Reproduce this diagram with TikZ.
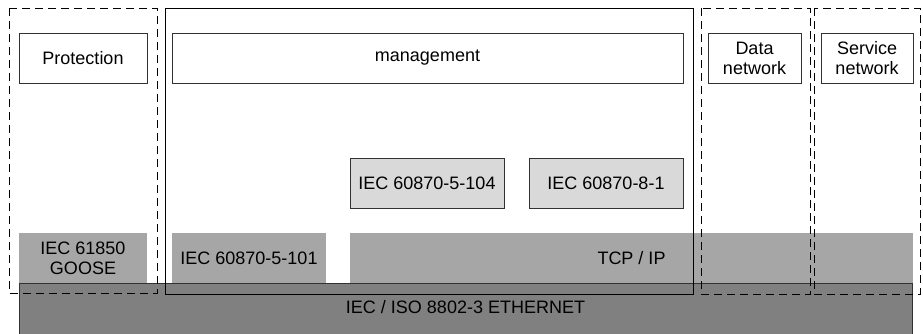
\documentclass[tikz,border=0pt]{standalone}
\usepackage{fontspec}
\setmainfont{Liberation Sans}
\definecolor{ethc}{RGB}{128,128,128}
\definecolor{midc}{RGB}{166,166,166}
\definecolor{lightc}{RGB}{217,217,217}
\definecolor{edgec}{RGB}{50,50,50}
\begin{document}
\begin{tikzpicture}[x=1pt,y=-1pt,
  txt/.style={font=\fontsize{18}{20}\selectfont, align=center, inner sep=0pt, text=black},
  whitebox/.style={txt, draw=edgec, line width=0.8pt, fill=white, minimum width=#1, minimum height=50pt},
  lightbox/.style={txt, draw=edgec, line width=0.8pt, fill=lightc, minimum width=#1, minimum height=50pt},
  midbox/.style={txt, fill=midc, minimum width=#1, minimum height=50pt},
  frame/.style={draw=black, line width=0.9pt},
  dframe/.style={draw=black, line width=0.9pt, dash pattern=on 8pt off 5pt}
]
\useasboundingbox (0,0) rectangle (923,333);
\begin{scope}
\clip (0,0) rectangle (923,333);
% ethernet
\node[txt, fill=ethc, draw=edgec, line width=0.8pt, minimum width=893pt, minimum height=54pt, anchor=north west] (eth) at (19,283) {};
\node[txt] (ethtxt) at (465.5,307.5) {IEC / ISO 8802-3 ETHERNET};
\end{scope}
% protocol boxes
\node[midbox=128pt] (goose) at (83,258) {IEC 61850\\GOOSE};
\node[midbox=154pt] (m101) at (249,258) {IEC 60870-5-101};
\node[midbox=563pt] (tcp) at (631.5,258) {TCP / IP};
\node[lightbox=154pt] (m104) at (427,183) {IEC 60870-5-104};
\node[lightbox=154pt] (m81) at (606,183) {IEC 60870-8-1};
% top boxes
\node[whitebox=128pt] (prot) at (83,58) {Protection};
\node[whitebox=511pt] (mgmt) at (427.5,58) {management};
\node[whitebox=93pt] (data) at (754.5,58) {Data\\network};
\node[whitebox=92pt] (serv) at (867,58) {Service\\network};
% frames
\draw[dframe] (9,8) rectangle (157,293);
\draw[frame] (165,8) rectangle (693,294);
\draw[dframe] (701,8) rectangle (810,294);
\draw[dframe] (814,8) rectangle (920,294);
\end{tikzpicture}
\end{document}
